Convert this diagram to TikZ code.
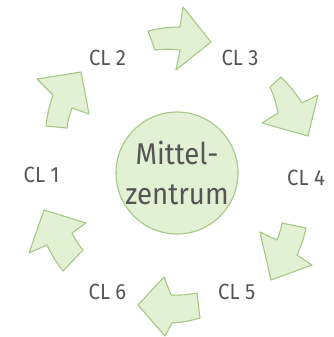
\documentclass[tikz,border=0pt]{standalone}
\usepackage{fontspec}
\newfontfamily\clfont[FakeStretch=0.92]{Fira Sans}
\definecolor{arrowfill}{RGB}{226,240,212}
\definecolor{arrowline}{RGB}{166,200,134}
\definecolor{labelgray}{RGB}{85,85,85}
\tikzset{
	blockarrow/.style={draw=arrowline, fill=arrowfill, line width=1.1pt, line join=round},
	cllabel/.style={text=labelgray, font=\clfont\fontsize{22}{24}\selectfont, inner sep=0pt},
}

\begin{document}
\begin{tikzpicture}[x=1pt,y=-1pt]
	\useasboundingbox (0,0) rectangle (334,337);
	% centre
	\node [circle, draw=arrowline, fill=arrowfill, line width=1.1pt, minimum size=122pt, inner sep=0pt,
	       text=labelgray, align=center, font=\clfont\fontsize{30}{40}\selectfont] (mz) at (177,173) {Mittel-\\zentrum};

	% labels
	\node [cllabel] (cl1) at (41.5,175) {CL 1};
	\node [cllabel] (cl2) at (107.5,57.5) {CL 2};
	\node [cllabel] (cl3) at (240,57.5) {CL 3};
	\node [cllabel] (cl4) at (306,178) {CL 4};
	\node [cllabel] (cl5) at (236.7,291.7) {CL 5};
	\node [cllabel] (cl6) at (107.5,291.7) {CL 6};

	% arrows, clockwise
	\draw [blockarrow] (148,31) to[bend left=6] (180,27) -- (183,7) -- (211,42) -- (176,70) -- (180,50) to[bend right=6] (155,50) -- cycle;
	\draw [blockarrow] (270,87) -- (281,77) to[bend left=6] (302,103) -- (318,95) -- (308,136) -- (262,123) -- (278,113) to[bend right=6] cycle;
	\draw [blockarrow] (282,223) -- (306,228) to[bend left=6] (297,255) -- (312,265) -- (271,280) -- (260,232) -- (277,240) to[bend right=6] cycle;
	\draw [blockarrow] (197,293) -- (200,318) to[bend left=6] (172,323) -- (165,336) -- (138,305) -- (164,277) -- (171,295) to[bend right=6] cycle;
	\draw [blockarrow] (63,271) to[bend left=6] (47,245) -- (29,253) -- (44,210) -- (86,223) -- (72,233) to[bend right=6] (83,250) -- cycle;
	\draw [blockarrow] (46,126) to[bend left=6] (53,95) -- (37,79) -- (81,72) -- (89,114) -- (72,108) to[bend right=6] (67,128) -- cycle;
\end{tikzpicture}
\end{document}
